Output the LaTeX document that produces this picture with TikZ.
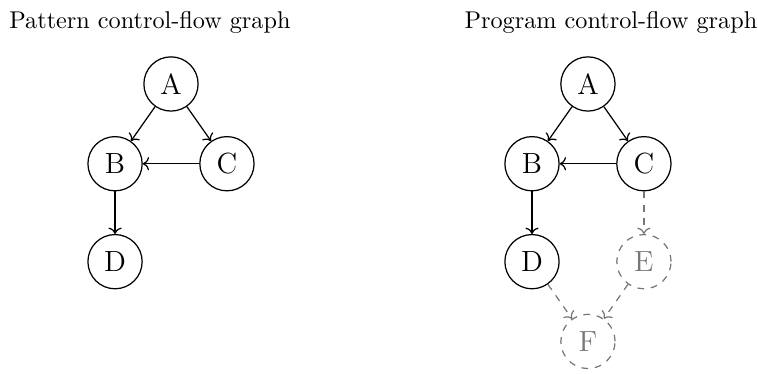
\documentclass[tikz,border=0pt]{standalone}
\usepackage{xcolor}
\definecolor{cGhost}{HTML}{777777}
\usepackage{tikz}
\usetikzlibrary{positioning,arrows.meta}
\tikzset{
  node-vertex/.style={draw,circle,minimum size=0.85cm,inner sep=0pt,
    font=\fontsize{13}{15}\selectfont},
  node-ghost/.style={draw=cGhost,dashed,text=cGhost},
  node-title/.style={font=\fontsize{10.8}{13}\selectfont,anchor=center},
  arrow/.style={->},
  arrow-ghost/.style={->,dashed,draw=cGhost},
}

\begin{document}
\begin{tikzpicture}[on grid,line width=0.55pt]
  \useasboundingbox (-2.68,-4.54) rectangle (9.20,1.316);
  % pattern graph
  \node[node-vertex] (a1) {A};
  \node[node-vertex,below left=1.25cm and 0.877cm of a1] (b1) {B};
  \node[node-vertex,below right=1.25cm and 0.877cm of a1] (c1) {C};
  \node[node-vertex,below=1.535cm of b1] (d1) {D};
  \node[node-title,above=0.97cm of a1,xshift=-0.33cm] (t1) {Pattern control-flow graph};
  \draw[arrow] (a1) -- (b1);
  \draw[arrow] (a1) -- (c1);
  \draw[arrow] (c1) -- (b1);
  \draw[arrow] (b1) -- (d1);
  % program graph
  \node[node-vertex,right=6.535cm of a1] (a2) {A};
  \node[node-vertex,below left=1.25cm and 0.877cm of a2] (b2) {B};
  \node[node-vertex,below right=1.25cm and 0.877cm of a2] (c2) {C};
  \node[node-vertex,below=1.535cm of b2] (d2) {D};
  \node[node-vertex,node-ghost,below=1.535cm of c2] (e2) {E};
  \node[node-vertex,node-ghost,below right=1.25cm and 0.877cm of d2] (f2) {F};
  \node[node-title,above=0.97cm of a2,xshift=0.36cm] (t2) {Program control-flow graph};
  \draw[arrow] (a2) -- (b2);
  \draw[arrow] (a2) -- (c2);
  \draw[arrow] (c2) -- (b2);
  \draw[arrow] (b2) -- (d2);
  \draw[arrow-ghost] (c2) -- (e2);
  \draw[arrow-ghost] (d2) -- (f2);
  \draw[arrow-ghost] (e2) -- (f2);
\end{tikzpicture}
\end{document}
